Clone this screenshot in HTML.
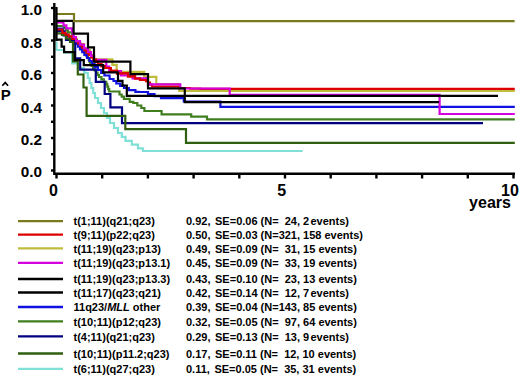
<!DOCTYPE html>
<html><head><meta charset="utf-8"><style>
html,body{margin:0;padding:0;background:#fff;}
svg{display:block;}
text{font-family:"Liberation Sans",sans-serif;font-weight:bold;}
</style></head><body>
<svg width="520" height="376" viewBox="0 0 520 376">
<rect width="520" height="376" fill="#fff"/>
<g fill="none" stroke-width="2.2" stroke-linejoin="miter" stroke-linecap="butt">
<path d="M56.5,30H63V34H66V39H77V44H84V50H90V55H94V59.4H112.4V64.8H116.7V71.8H144.2V76.8H156.3V84.2H179.2V91H514.8" stroke="#c0bc3c"/>
<path d="M56.5,26H62H64.0V28.1H66.0V30.3H68.0V32.4H72.0V35.6H73.6V37.8H75.2V40.1H76.8V42.3H78.4V44.6H80.0V46.8H81.6V49.0H83.2V51.3H84.8V53.5H86.4V55.8H88.0V58.0H88.7V59.9H89.5V61.9H90.2V63.8H91.7V66.0H93.1V68.2H94.6V70.4H96.1V72.6H97.5V74.8H99.0V77.0H101.4V79.4H103.9V81.8H106.3V84.2H107.3V86.6H108.2V89.1H109.2V91.5H119.5V94.5H121.7V96.7H123.9V98.9H129.7V101.8H133.3V103.0H137.3V105.5H141.3V108.0H144.4V111.0H161.6V114.3H191.2V116.6H207V119.3H514.8" stroke="#3f7f1f"/>
<path d="M56.5,28.5H61H63.0V31.5H64.8V34.0H66.5V36.5H70.0V38.8H73.5V41.0H75.7V43.8H77.9V46.6H80.0V49.4H82.2V52.2H84.4V55.0H87.0V58.0H89.5V61.0H92.0V64.0H94.6V67.0H98.0V70.0H101.2V72.8H104.4V75.5H109.6V79.0H113.5V81.0H116.3V83.5H120.2V85.8H124.0V88.0H128.8V90.2H135.4V91.8H138.5V92.0H148.0V94.0H154.5V96.1H161.0V98.2H183.8V101.5H220.4V102.0V106.8H514.8" stroke="#1010e0"/>
<path d="M56.5,41.5H56.5V50H64V52.5H72.2V63.4H78V68H84V72.5H84H86.0V73.0H87.8V78.0H89.6V83.0H91.4V88.0H93.2V93.0H95.0V98.0H98.0V103.0H101.0V108.0H104.0V113.0H107.0V118.0H110.0V123.0H114.0V128.0H118.0V133.0H121.8V136.9H125.5V140.8H131.8V144.6H138.0V148.4H143.0V151.0H302.6" stroke="#80e0d8"/>
<path d="M56.5,31H63.5V35.5H66V40H75.2V58.3H80.2V69.6H95.8V81.8H104.7V94H110.4V107.4H122V123.2H483" stroke="#000080"/>
<path d="M56.5,33.3H62V35H66V38.5H70V42H73V61.5H77.8V74.5H83.5V87.5H86.6V115.8H125.3V129.2H186V142.8H514.8" stroke="#2f5f0f"/>
<path d="M56.5,29.5H61H62.4V32.8H65.6V34.6H68.8V36.4H72.4V38.8H76.0V41.1H78.1V43.4H80.3V45.7H82.4V48.0H84.5V50.4H86.7V52.7H88.8V55.0H91.1V57.3H93.4V59.6H95.7V62.0H98.0V64.3H101.5V66.2H105.0V68.0H110.8V70.8H117.0V73.3H128.0V76.3H135.0V78.5H140.0V80.0H148.0V82.5H150.0V84.5H152.0V86.5H180.0V88.0H190.0V88.7H200.0V88.8H514.8" stroke="#dd0000"/>
<path d="M56.5,22.4H60.5H63.5V25.4H66.4V28.4H72.0V30.8H72.8V34.0H73.6V37.2H76.0V41.1H80.0V44.7H84.0V48.4H88.0V52.0H91.0V55.9H94.0V59.8H106.3V66.7H109.2V71.0H121.0V75.5H132.6V78.4H148V84.3H180.3V88.5H229.7V94.8H439.6V114H514.8" stroke="#d400e0"/>
<path d="M94,59.5H96.0V61.9H98.0V64.3H101.5V66.2H105.0V68.0H110.8V70.8H117.0V73.3H128.0V76.3H135.0V78.5H140.0V80.0H146.0V82.3" stroke="#dd0000"/>
<path d="M56.5,39.7H61.6V46.6H64.1V52.2H74.8V60.2H83.8V65.2H103.2V72.4H118V80.8H122.5V85.5H126.8V95.8H498" stroke="#000000"/>
<path d="M56.5,20.8H73.6V33.7H88V47.4H94V61.6H130.4V74.1H148V88.3H184.8V102.2H439" stroke="#000000"/>
<path d="M56.5,14H74V21.1H514.6" stroke="#7a7a1e"/>
</g>
<g stroke="#000" stroke-width="2.4" fill="none">
<path d="M54.3,3 V173.8 H515"/>
<path d="M56.4,7 V41"/>
<line x1="51" y1="170.5" x2="55" y2="170.5"/><line x1="51" y1="154.2" x2="55" y2="154.2"/><line x1="51" y1="138.0" x2="55" y2="138.0"/><line x1="51" y1="121.8" x2="55" y2="121.8"/><line x1="51" y1="105.5" x2="55" y2="105.5"/><line x1="51" y1="89.2" x2="55" y2="89.2"/><line x1="51" y1="73.0" x2="55" y2="73.0"/><line x1="51" y1="56.8" x2="55" y2="56.8"/><line x1="51" y1="40.5" x2="55" y2="40.5"/><line x1="51" y1="24.2" x2="55" y2="24.2"/><line x1="51" y1="8.0" x2="55" y2="8.0"/><line x1="56.5" y1="173" x2="56.5" y2="178.5"/><line x1="102.2" y1="173" x2="102.2" y2="178.5"/><line x1="147.9" y1="173" x2="147.9" y2="178.5"/><line x1="193.6" y1="173" x2="193.6" y2="178.5"/><line x1="239.3" y1="173" x2="239.3" y2="178.5"/><line x1="285.0" y1="173" x2="285.0" y2="178.5"/><line x1="330.7" y1="173" x2="330.7" y2="178.5"/><line x1="376.4" y1="173" x2="376.4" y2="178.5"/><line x1="422.1" y1="173" x2="422.1" y2="178.5"/><line x1="467.8" y1="173" x2="467.8" y2="178.5"/><line x1="513.5" y1="173" x2="513.5" y2="178.5"/>
</g>
<g font-size="15" fill="#000">
<text x="42" y="15.3" text-anchor="end" font-size="15.3">1.0</text><text x="42" y="47.7" text-anchor="end" font-size="15.3">0.8</text><text x="42" y="80.1" text-anchor="end" font-size="15.3">0.6</text><text x="42" y="112.5" text-anchor="end" font-size="15.3">0.4</text><text x="42" y="144.9" text-anchor="end" font-size="15.3">0.2</text><text x="42" y="177.3" text-anchor="end" font-size="15.3">0.0</text>
<text x="53.4" y="196" text-anchor="middle" font-size="16">0</text>
<text x="281.7" y="196" text-anchor="middle" font-size="16">5</text>
<text x="510" y="196" text-anchor="middle" font-size="16">10</text>
<text x="490" y="208" text-anchor="middle" font-size="16">years</text>
<text x="5.8" y="100" text-anchor="middle">P</text>
<polyline points="2.3,85.8 5.2,82.6 8.1,85.8" fill="none" stroke="#000" stroke-width="1.7"/>

</g>
<g font-size="11" fill="#000">
<line x1="18" y1="221.2" x2="63" y2="221.2" stroke="#7a7a1e" stroke-width="2.3"/><text x="73.5" y="225.4">t(1;11)(q21;q23)</text><text x="186" y="225.4" xml:space="preserve">0.92, <tspan dx="1.5">SE=0.06 (N=  24, 2 <tspan dx="-1.8">events)</tspan></tspan></text><line x1="18" y1="234.7" x2="63" y2="234.7" stroke="#dd0000" stroke-width="2.3"/><text x="73.5" y="238.9">t(9;11)(p22;q23)</text><text x="186" y="238.9" xml:space="preserve">0.50, <tspan dx="1.5">SE=0.03 (N=321, 158 events)</tspan></text><line x1="18" y1="248.4" x2="63" y2="248.4" stroke="#c0bc3c" stroke-width="2.3"/><text x="73.5" y="252.6">t(11;19)(q23;p13)</text><text x="186" y="252.6" xml:space="preserve">0.49, <tspan dx="1.5">SE=0.09 (N=  31, 15 events)</tspan></text><line x1="18" y1="262.8" x2="63" y2="262.8" stroke="#d400e0" stroke-width="2.3"/><text x="73.5" y="267.0">t(11;19)(q23;p13.1)</text><text x="186" y="267.0" xml:space="preserve">0.45, <tspan dx="1.5">SE=0.09 (N=  33, 19 events)</tspan></text><line x1="18" y1="279.0" x2="63" y2="279.0" stroke="#000000" stroke-width="2.3"/><text x="73.5" y="283.2">t(11;19)(q23;p13.3)</text><text x="186" y="283.2" xml:space="preserve">0.43, <tspan dx="1.5">SE=0.10 (N=  23, 13 events)</tspan></text><line x1="18" y1="292.5" x2="63" y2="292.5" stroke="#000000" stroke-width="2.3"/><text x="73.5" y="296.7">t(11;17)(q23;q21)</text><text x="186" y="296.7" xml:space="preserve">0.42, <tspan dx="1.5">SE=0.14 (N=  12, 7 <tspan dx="-1.8">events)</tspan></tspan></text><line x1="18" y1="307.0" x2="63" y2="307.0" stroke="#1010e0" stroke-width="2.3"/><text x="73.5" y="311.2">11q23/<tspan font-style="italic">MLL</tspan> other</text><text x="186" y="311.2" xml:space="preserve">0.39, <tspan dx="1.5">SE=0.04 (N=143, 85 events)</tspan></text><line x1="18" y1="321.4" x2="63" y2="321.4" stroke="#3f7f1f" stroke-width="2.3"/><text x="73.5" y="325.6">t(10;11)(p12;q23)</text><text x="186" y="325.6" xml:space="preserve">0.32, <tspan dx="1.5">SE=0.05 (N=  97, 64 events)</tspan></text><line x1="18" y1="336.3" x2="63" y2="336.3" stroke="#000080" stroke-width="2.3"/><text x="73.5" y="340.5">t(4;11)(q21;q23)</text><text x="186" y="340.5" xml:space="preserve">0.29, <tspan dx="1.5">SE=0.13 (N=  13, 9 <tspan dx="-1.8">events)</tspan></tspan></text><line x1="18" y1="353.5" x2="63" y2="353.5" stroke="#2f5f0f" stroke-width="2.3"/><text x="73.5" y="357.7">t(10;11)(p11.2;q23)</text><text x="186" y="357.7" xml:space="preserve">0.17, <tspan dx="1.5">SE=0.11 (N=  12, 10 events)</tspan></text><line x1="18" y1="368.9" x2="63" y2="368.9" stroke="#80e0d8" stroke-width="2.3"/><text x="73.5" y="373.1">t(6;11)(q27;q23)</text><text x="186" y="373.1" xml:space="preserve">0.11, <tspan dx="1.5">SE=0.05 (N=  35, 31 events)</tspan></text>
</g>
</svg>
</body></html>
